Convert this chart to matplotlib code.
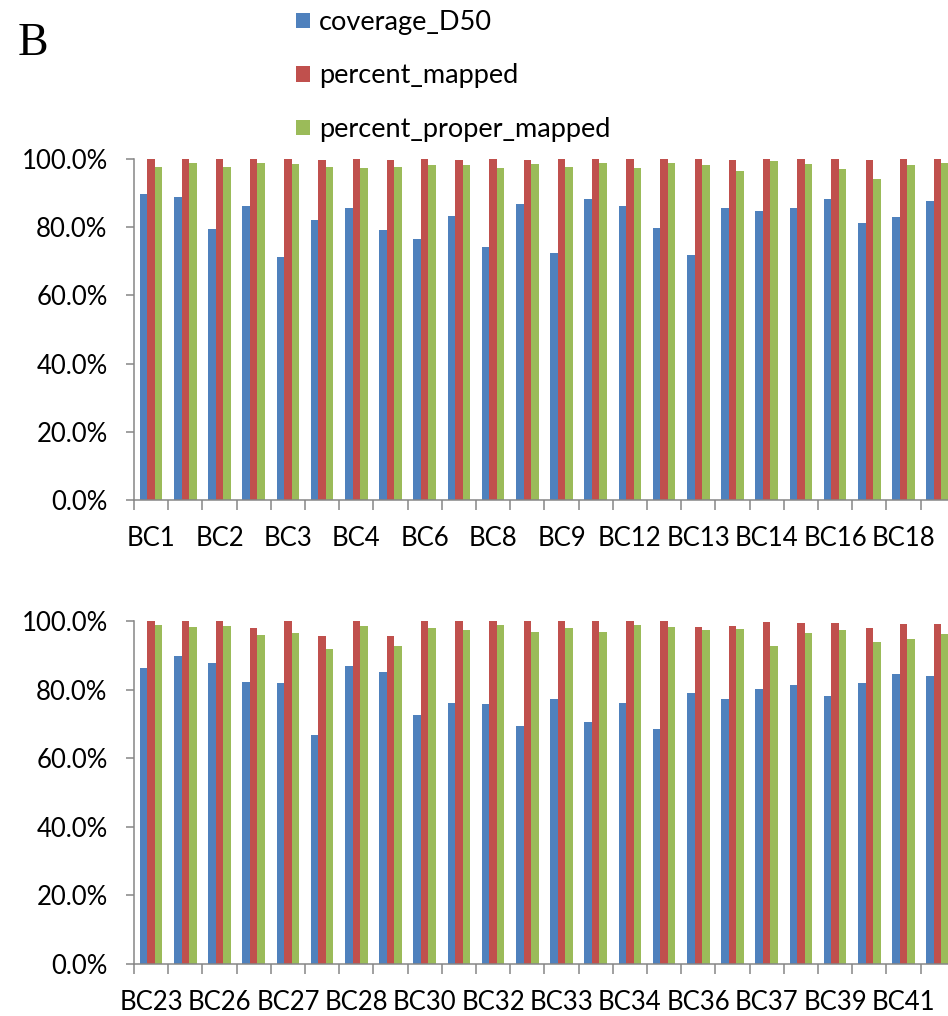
import numpy as np
import matplotlib
matplotlib.use("Agg")
import matplotlib.pyplot as plt
from matplotlib.ticker import PercentFormatter, FixedLocator, NullFormatter, FixedFormatter
from matplotlib.patches import Patch

plt.rcParams['font.family'] = ['Lato', 'DejaVu Sans']

series = ["coverage_D50", "percent_mapped", "percent_proper_mapped"]
colors = ["#4F81BD", "#C0504D", "#9BBB59"]

# panel 1 (24 groups, every other label shown)
top_labels = ["BC1", "BC2", "BC3", "BC4", "BC6", "BC8", "BC9", "BC12", "BC13", "BC14", "BC16", "BC18"]
top_coverage = [89.6, 88.9, 79.5, 86.1, 71.4, 82.1, 85.7, 79.2, 76.6, 83.3, 74.2, 86.9,
                72.4, 88.3, 86.1, 79.8, 71.9, 85.6, 84.7, 85.7, 88.3, 81.1, 82.9, 87.8]
top_mapped = [100, 100, 100, 100, 100, 99.8, 100, 99.7, 100, 99.8, 100, 99.8,
              100, 99.9, 100, 100, 100, 99.7, 100, 100, 100, 99.8, 100, 100]
top_proper = [97.6, 98.8, 97.6, 98.9, 98.4, 97.6, 97.3, 97.8, 98.1, 98.1, 97.3, 98.5,
              97.8, 98.7, 97.4, 98.7, 98.2, 96.5, 99.3, 98.5, 97.0, 94.2, 98.2, 98.9]

# panel 2
bottom_labels = ["BC23", "BC26", "BC27", "BC28", "BC30", "BC32", "BC33", "BC34", "BC36", "BC37", "BC39", "BC41"]
bottom_coverage = [86.3, 89.7, 87.9, 82.2, 81.8, 66.8, 86.9, 85.1, 72.7, 76.2, 75.9, 69.4,
                   77.2, 70.5, 76.0, 68.6, 79.0, 77.2, 80.2, 81.2, 78.2, 81.8, 84.5, 83.9]
bottom_mapped = [100, 100, 100, 98.0, 100, 95.5, 100, 95.7, 100, 100, 100, 100,
                 100, 100, 100, 100, 98.2, 98.6, 99.7, 99.5, 99.5, 98.1, 99.2, 99.0]
bottom_proper = [98.8, 98.2, 98.5, 96.0, 96.5, 91.8, 98.5, 92.6, 98.1, 97.5, 98.9, 96.8,
                 98.0, 96.8, 98.7, 98.2, 97.5, 97.7, 92.8, 96.6, 97.4, 94.0, 94.7, 96.1]

W, H = 948, 1016
fig = plt.figure(figsize=(W / 100, H / 100), dpi=100)

gray = "#868686"
bw = 0.222


def draw_panel(ax, labels, vals):
    n = len(vals[0])
    x = np.arange(n)
    for i, (v, c) in enumerate(zip(vals, colors)):
        ax.bar(x + (i - 1) * bw, v, width=bw, color=c, edgecolor="none")
    ax.set_xlim(-0.5, n - 0.5)
    ax.set_ylim(0, 100)
    ax.set_yticks([0, 20, 40, 60, 80, 100])
    ax.yaxis.set_major_formatter(PercentFormatter(xmax=100, decimals=1))
    ax.xaxis.set_major_locator(FixedLocator(np.arange(n + 1) - 0.5))
    ax.xaxis.set_major_formatter(NullFormatter())
    ax.xaxis.set_minor_locator(FixedLocator(x[::2]))
    ax.xaxis.set_minor_formatter(FixedFormatter(labels))
    ax.tick_params(axis="x", which="major", length=7, width=1.1, color=gray, direction="out")
    ax.tick_params(axis="x", which="minor", length=0, pad=19, labelsize=18.5)
    ax.tick_params(axis="y", length=6, width=1.1, color=gray, direction="out", pad=13, labelsize=18.5)
    for s in ["top", "right"]:
        ax.spines[s].set_visible(False)
    for s in ["left", "bottom"]:
        ax.spines[s].set_color(gray)
        ax.spines[s].set_linewidth(1.1)


left = 134 / W
right = (134 + 24 * 34.2) / W
ax1 = fig.add_axes([left, 1 - 500 / H, right - left, (500 - 159) / H])
draw_panel(ax1, top_labels, [top_coverage, top_mapped, top_proper])

ax2 = fig.add_axes([left, 1 - 964 / H, right - left, (964 - 621) / H])
draw_panel(ax2, bottom_labels, [bottom_coverage, bottom_mapped, bottom_proper])

handles = [Patch(facecolor=c, edgecolor="none") for c in colors]
fig.legend(handles, series, loc="upper left", bbox_to_anchor=(296 / W, 1 - 10 / H),
           frameon=False, fontsize=19.5, handlelength=0.5, handleheight=0.5,
           handletextpad=0.35, labelspacing=1.05, borderpad=0, borderaxespad=0)

fig.text(18 / W, 1 - 55 / H, "B", fontsize=33, family="Liberation Serif", ha="left", va="baseline")

fig.savefig("out.png", dpi=100)
